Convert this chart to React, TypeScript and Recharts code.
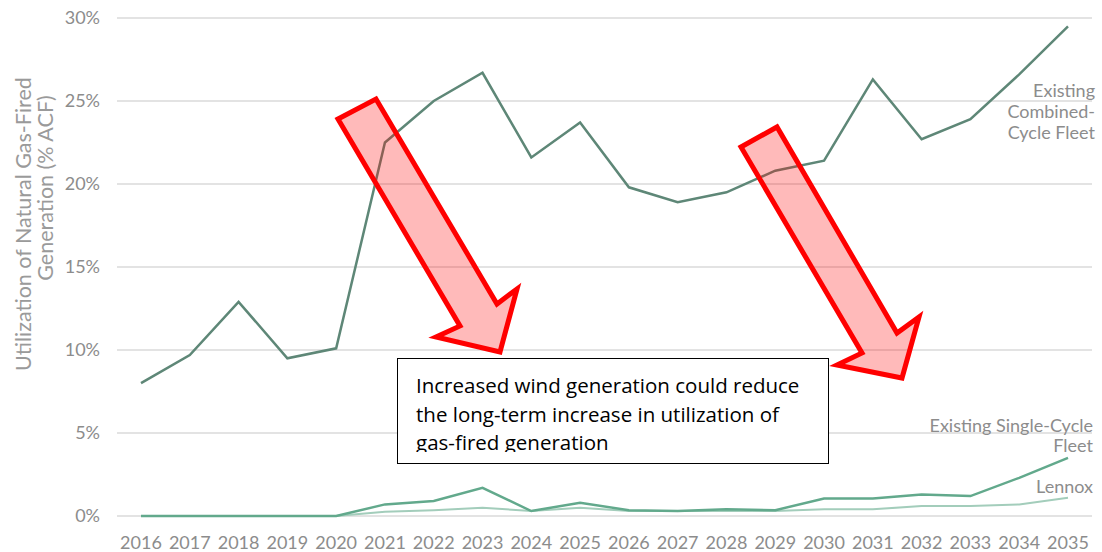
import React from 'react';
import { LineChart, Line, XAxis, YAxis, CartesianGrid } from 'recharts';

const YEARS = [
  '2016', '2017', '2018', '2019', '2020', '2021', '2022', '2023', '2024', '2025',
  '2026', '2027', '2028', '2029', '2030', '2031', '2032', '2033', '2034', '2035',
];

// utilization, % ACF
const COMBINED_CYCLE = [
  8.0, 9.7, 12.9, 9.5, 10.1, 22.5, 25.0, 26.7, 21.6, 23.7,
  19.8, 18.9, 19.5, 20.8, 21.4, 26.3, 22.7, 23.9, 26.6, 29.5,
];
const SINGLE_CYCLE = [
  0, 0, 0, 0, 0, 0.7, 0.9, 1.7, 0.3, 0.8,
  0.35, 0.3, 0.4, 0.35, 1.05, 1.05, 1.3, 1.2, 2.3, 3.5,
];
const LENNOX = [
  0, 0, 0, 0, 0, 0.25, 0.35, 0.5, 0.3, 0.5,
  0.3, 0.3, 0.3, 0.3, 0.4, 0.4, 0.6, 0.6, 0.7, 1.1,
];

const Y_TICKS = [0, 5, 10, 15, 20, 25, 30];

const NOTE_LINES = [
  'Increased wind generation could reduce',
  'the long-term increase in utilization of',
  'gas-fired generation',
];

const data = YEARS.map((year, i) => ({
  year,
  combined: COMBINED_CYCLE[i],
  single: SINGLE_CYCLE[i],
  lennox: LENNOX[i],
}));

const LABEL_FONT = 'Lato, "DejaVu Sans", sans-serif';
const LABEL_GRAY = '#8c8c8c';

// big hollow call-out arrows
const ARROW_A = '338,119 376,99 497,304 517,289 500,352 436,337 460,326';
const ARROW_B = '741,147 777,127 897,333 919,317 902,378 837,365 862,353';

const Overlay: React.FC = () => (
  <svg
    width={1102}
    height={552}
    style={{ position: 'absolute', left: 0, top: 0, pointerEvents: 'none' }}
  >
    <defs>
      <clipPath id="noteClip">
        <rect x={398} y={359} width={430} height={93} />
      </clipPath>
    </defs>

    {/* axis title */}
    <g fill="#9a9a9a" fontFamily={LABEL_FONT} fontSize={21.5} textAnchor="middle">
      <text transform="translate(31,224) rotate(-90)">Utilization of Natural Gas-Fired</text>
      <text transform="translate(53,188) rotate(-90)">Generation (% ACF)</text>
    </g>

    {/* series labels */}
    <g fill={LABEL_GRAY} fontFamily={LABEL_FONT} fontSize={18} textAnchor="end">
      <text x={1095} y={97}>Existing</text>
      <text x={1095} y={118}>Combined-</text>
      <text x={1095} y={139}>Cycle Fleet</text>
      <text x={1093} y={432}>Existing Single-Cycle</text>
      <text x={1093} y={452}>Fleet</text>
      <text x={1093} y={493}>Lennox</text>
    </g>

    <polygon points={ARROW_A} fill="rgba(255,0,0,0.27)" stroke="#ff0000" strokeWidth={5} strokeLinejoin="miter" />
    <polygon points={ARROW_B} fill="rgba(255,0,0,0.27)" stroke="#ff0000" strokeWidth={5} strokeLinejoin="miter" />

    <rect x={397.5} y={358.5} width={431} height={105} fill="#ffffff" stroke="#000000" strokeWidth={1} />
    <g clipPath="url(#noteClip)" fontFamily='"Open Sans", sans-serif' fontSize={20.5} fill="#000000">
      {NOTE_LINES.map((line, i) => (
        <text key={i} x={416} y={393 + i * 28.5}>{line}</text>
      ))}
    </g>
  </svg>
);

export default function App() {
  return (
    <div style={{ position: 'absolute', left: 0, top: 0, width: 1102, height: 552, background: '#fff' }}>
      <LineChart width={1102} height={552} data={data} margin={{ top: 18, right: 10, bottom: 0, left: 0 }}>
        <CartesianGrid vertical={false} stroke="#dadada" strokeWidth={1.5} />
        <XAxis
          dataKey="year"
          height={36}
          padding={{ left: 24, right: 24 }}
          axisLine={false}
          tickLine={false}
          tickMargin={14}
          interval={0}
          tick={{ fill: LABEL_GRAY, fontSize: 18, fontFamily: LABEL_FONT }}
        />
        <YAxis
          width={117}
          domain={[0, 30]}
          ticks={Y_TICKS}
          tickFormatter={(v: number) => `${v}%`}
          axisLine={false}
          tickLine={false}
          tickMargin={11}
          tick={{ fill: LABEL_GRAY, fontSize: 18, fontFamily: LABEL_FONT }}
        />
        <Line dataKey="lennox" stroke="#a3cdbb" strokeWidth={2} dot={false} isAnimationActive={false} />
        <Line dataKey="single" stroke="#62a98c" strokeWidth={2.5} dot={false} isAnimationActive={false} />
        <Line dataKey="combined" stroke="#5e8777" strokeWidth={2.5} dot={false} isAnimationActive={false} />
      </LineChart>
      <Overlay />
    </div>
  );
}
